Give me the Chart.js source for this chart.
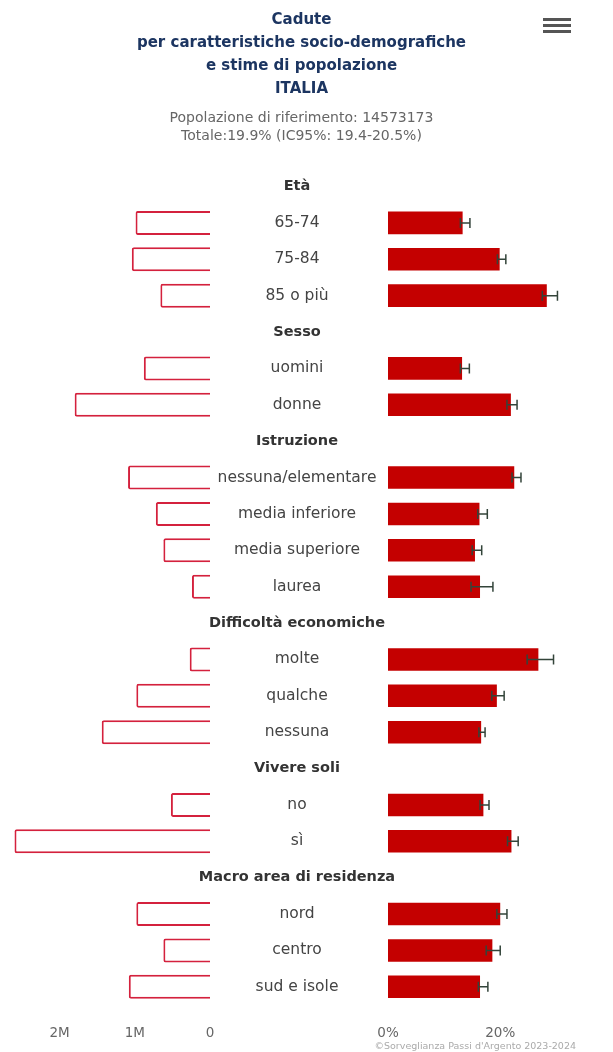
<!DOCTYPE html>
<html lang="it">
<head>
<meta charset="utf-8">
<title>Cadute per caratteristiche socio-demografiche</title>
<script src="https://cdn.jsdelivr.net/npm/chart.js@4.4.1/dist/chart.umd.min.js"></script>
<style>
  html, body { margin: 0; padding: 0; background: #fff; }
  #grafico { display: block; }
</style>
</head>
<body>
<canvas id="grafico" width="613" height="1052"></canvas>
<script>
// dati (le righe di intestazione hanno valori null)
const categorie = [
    'Età', '65-74', '75-84', '85 o più',
    'Sesso', 'uomini', 'donne',
    'Istruzione', 'nessuna/elementare', 'media inferiore', 'media superiore', 'laurea',
    'Difficoltà economiche', 'molte', 'qualche', 'nessuna',
    'Vivere soli', 'no', 'sì',
    'Macro area di residenza', 'nord', 'centro', 'sud e isole'
];
const intestazioni = ['Età', 'Sesso', 'Istruzione', 'Difficoltà economiche', 'Vivere soli', 'Macro area di residenza'];

// stima popolazione con cadute (numero di persone)
const popolazione = [
    null, 990000, 1040000, 660000,
    null, 880000, 1800000,
    null, 1090000, 720000, 620000, 240000,
    null, 270000, 980000, 1440000,
    null, 520000, 2600000,
    null, 980000, 620000, 1080000
];
// prevalenza % e intervallo di confidenza al 95%
const prevalenza = [
    null, 13.3, 19.9, 28.3,
    null, 13.2, 21.9,
    null, 22.5, 16.3, 15.5, 16.4,
    null, 26.8, 19.4, 16.6,
    null, 17.0, 22.0,
    null, 20.0, 18.6, 16.4
];
const icInf = [
    null, 12.9, 19.5, 27.5,
    null, 12.9, 21.2,
    null, 22.1, 16.0, 15.0, 14.8,
    null, 24.8, 18.5, 16.2,
    null, 16.4, 21.3,
    null, 19.4, 17.5, 16.1
];
const icSup = [
    null, 14.6, 21.0, 30.2,
    null, 14.5, 23.0,
    null, 23.7, 17.7, 16.7, 18.7,
    null, 29.5, 20.7, 17.3,
    null, 18.0, 23.2,
    null, 21.2, 20.0, 17.8
];
// tacche degli assi
const tickPopolazione = [0, 1000000, 2000000];
const tickPrevalenza = [0, 20];

const titolo = ['Cadute', 'per caratteristiche socio-demografiche', 'e stime di popolazione', 'ITALIA'];
const sottotitolo = ['Popolazione di riferimento: 14573173', 'Totale:19.9% (IC95%: 19.4-20.5%)'];
const crediti = '©Sorveglianza Passi d\'Argento 2023-2024';

const FONT = "'DejaVu Sans', 'Open Sans', sans-serif";

// barre di errore (IC95%) sulla scala percentuale
const pluginErrori = {
    id: 'errori',
    afterDatasetsDraw(chart) {
        const ctx = chart.ctx;
        const xs = chart.scales.xPct;
        const ys = chart.scales.y;
        ctx.save();
        ctx.strokeStyle = '#33443a';
        ctx.lineWidth = 1.5;
        for (let i = 0; i < categorie.length; i++) {
            if (icInf[i] == null) continue;
            const x1 = xs.getPixelForValue(icInf[i]);
            const x2 = xs.getPixelForValue(icSup[i]);
            const y = ys.getPixelForValue(i);
            ctx.beginPath();
            ctx.moveTo(x1, y); ctx.lineTo(x2, y);
            ctx.moveTo(x1, y - 5); ctx.lineTo(x1, y + 5);
            ctx.moveTo(x2, y - 5); ctx.lineTo(x2, y + 5);
            ctx.stroke();
        }
        ctx.restore();
    }
};

// etichette delle categorie al centro, tra i due assi
const pluginEtichette = {
    id: 'etichette',
    afterDraw(chart) {
        const ctx = chart.ctx;
        const gap = chart.scales.xGap;
        const ys = chart.scales.y;
        const cx = (gap.left + gap.right) / 2 - 2;
        ctx.save();
        ctx.textAlign = 'center';
        ctx.textBaseline = 'middle';
        categorie.forEach(function (c, i) {
            const y = ys.getPixelForValue(i);
            if (intestazioni.includes(c)) {
                ctx.font = 'bold 14.5px ' + FONT;
                ctx.fillStyle = '#333333';
            } else {
                ctx.font = '15.5px ' + FONT;
                ctx.fillStyle = '#444444';
            }
            ctx.fillText(c, cx, y);
        });

        // crediti in basso a destra
        ctx.font = '9.5px ' + FONT;
        ctx.fillStyle = '#aaaaaa';
        ctx.textAlign = 'right';
        ctx.fillText(crediti, 576, 1047);

        // icona menu
        ctx.fillStyle = '#555555';
        for (let k = 0; k < 3; k++) {
            ctx.fillRect(543, 18 + k * 6, 28, 3);
        }
        ctx.restore();
    }
};

// le tacche vengono dagli array sopra
const usaTacche = function (valori) {
    return function (scale) {
        scale.ticks = valori.map(v => ({ value: v }));
    };
};
// niente margini extra per le etichette agli estremi, altezza fissa dell'asse
const fissaAsse = function (scale) {
    scale.paddingLeft = 0;
    scale.paddingRight = 0;
    scale.height = 35;
};

const config = {
    type: 'bar',
    data: {
        labels: categorie,
        datasets: [
            {
                label: 'Stima popolazione',
                data: popolazione,
                xAxisID: 'xPop',
                yAxisID: 'y',
                backgroundColor: '#ffffff',
                borderColor: '#d4213d',
                borderWidth: 2,
                borderRadius: 2,
                borderSkipped: 'start',
                grouped: false,
                barPercentage: 0.66,
                categoryPercentage: 1
            },
            {
                label: 'Prevalenza %',
                data: prevalenza,
                xAxisID: 'xPct',
                yAxisID: 'y',
                backgroundColor: '#c40000',
                borderWidth: 0,
                grouped: false,
                barPercentage: 0.62,
                categoryPercentage: 1
            }
        ]
    },
    plugins: [pluginErrori, pluginEtichette],
    options: {
        indexAxis: 'y',
        responsive: false,
        animation: false,
        layout: { padding: { left: 13, right: 23, top: 0, bottom: 12 } },
        plugins: {
            legend: { display: false },
            tooltip: { enabled: false },
            title: {
                display: true,
                text: titolo,
                color: '#1c3561',
                font: { family: FONT, size: 15, weight: 'bold', lineHeight: 1.55 },
                padding: { top: 8, bottom: 0 }
            },
            subtitle: {
                display: true,
                text: sottotitolo,
                color: '#666666',
                font: { family: FONT, size: 14, lineHeight: 1.29 },
                padding: { top: 8.4, bottom: 22.8 }
            }
        },
        scales: {
            y: {
                type: 'category',
                display: false
            },
            xPop: {
                type: 'linear',
                position: 'bottom',
                stack: 'assi',
                stackWeight: 197,
                reverse: true,
                min: 0,
                max: 2620000,
                grid: { display: false, drawTicks: false },
                border: { display: false },
                afterBuildTicks: usaTacche(tickPopolazione),
                afterFit: fissaAsse,
                ticks: {
                    autoSkip: false,
                    maxRotation: 0,
                    padding: 20,
                    color: '#666666',
                    font: { family: FONT, size: 13.5 },
                    callback: function (v) { return v === 0 ? '0' : (v / 1000000) + 'M'; }
                }
            },
            xGap: {
                type: 'linear',
                position: 'bottom',
                stack: 'assi',
                stackWeight: 178,
                grid: { display: false, drawTicks: false },
                border: { display: false },
                afterFit: fissaAsse,
                ticks: { display: false }
            },
            xPct: {
                type: 'linear',
                position: 'bottom',
                stack: 'assi',
                stackWeight: 202,
                min: 0,
                max: 36,
                grid: { display: false, drawTicks: false },
                border: { display: false },
                afterBuildTicks: usaTacche(tickPrevalenza),
                afterFit: fissaAsse,
                ticks: {
                    autoSkip: false,
                    maxRotation: 0,
                    padding: 20,
                    color: '#666666',
                    font: { family: FONT, size: 13.5 },
                    callback: function (v) { return v + '%'; }
                }
            }
        }
    }
};

new Chart(document.getElementById('grafico'), config);
</script>
</body>
</html>
